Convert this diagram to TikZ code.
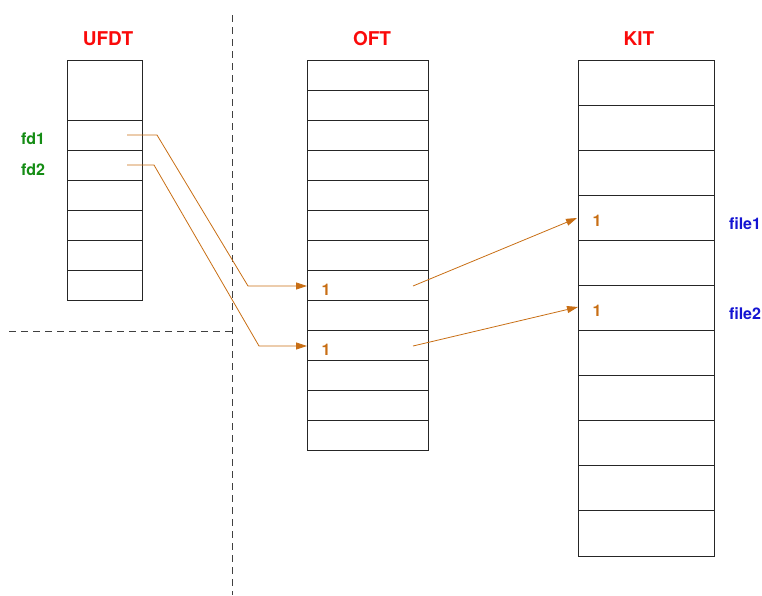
\documentclass[tikz,border=0pt]{standalone}
\usepackage{fontspec}
\setmainfont{TeX Gyre Heros}
\usetikzlibrary{arrows.meta}

\definecolor{linkbrown}{RGB}{200,110,20}
\definecolor{titlered}{RGB}{250,10,10}
\definecolor{fdgreen}{RGB}{20,140,20}
\definecolor{fileblue}{RGB}{20,20,210}

\tikzset{
  tbl/.style={draw=black!85,line width=0.9pt},
  sep/.style={draw=black!75,line width=1pt,dash pattern=on 7pt off 5pt},
  link/.style={draw=linkbrown,line width=0.8pt,-{Triangle[length=11pt,width=7pt]}},
  title/.style={text=titlered,font=\fontsize{19}{21}\selectfont\bfseries,anchor=base},
  fdlabel/.style={text=fdgreen,font=\fontsize{16}{18}\selectfont\bfseries,anchor=base},
  count/.style={text=linkbrown,font=\fontsize{16}{18}\selectfont\bfseries,anchor=base},
  filelabel/.style={text=fileblue,font=\fontsize{16}{18}\selectfont\bfseries,anchor=base}
}

\begin{document}
\begin{tikzpicture}[x=1pt,y=-1pt]
  \useasboundingbox (0,0) rectangle (762,595);

  % user / kernel split
  \draw[sep] (232,15) -- (232,595);
  \draw[sep] (9,331) -- (232,331);

  % titles
  \node[title] (ufdttitle) at (108,45) {UFDT};
  \node[title] (ofttitle) at (372,45) {OFT};
  \node[title] (kittitle) at (639,45) {KIT};

  % UFDT
  \draw[tbl] (67,60) rectangle (142,300);
  \foreach \y in {120,150,...,270}
    \draw[tbl] (67,\y) -- (142,\y);
  \node[fdlabel] (fd1) at (33,144) {fd1};
  \node[fdlabel] (fd2) at (33,175) {fd2};

  % OFT
  \draw[tbl] (307,60) rectangle (428,450);
  \foreach \y in {90,120,...,420}
    \draw[tbl] (307,\y) -- (428,\y);
  \node[count] (oftcnt1) at (326,295) {1};
  \node[count] (oftcnt2) at (326,355) {1};

  % KIT
  \draw[tbl] (578,60) rectangle (714,556);
  \foreach \i in {1,...,10}
    \draw[tbl] (578,{60+45.09*\i}) -- (714,{60+45.09*\i});
  \node[count] (kitcnt1) at (597,226) {1};
  \node[count] (kitcnt2) at (597,316) {1};
  \node[filelabel] (file1) at (745,229) {file1};
  \node[filelabel] (file2) at (745,319) {file2};

  % connector ends
  \coordinate (ufdt1) at (127,135);
  \coordinate (ufdt2) at (127,165);
  \coordinate (oftin1) at (307,286);
  \coordinate (oftin2) at (307,346);
  \coordinate (oftout1) at (413,286);
  \coordinate (oftout2) at (413,346);
  \coordinate (kitin1) at (577,218);
  \coordinate (kitin2) at (578,307);

  % fd -> OFT entry -> inode
  \draw[link] (ufdt1) -- ++(30,0) -- ++(91,151) -- (oftin1);
  \draw[link] (ufdt2) -- ++(27,0) -- ++(105,181) -- (oftin2);
  \draw[link] (oftout1) -- (kitin1);
  \draw[link] (oftout2) -- (kitin2);
\end{tikzpicture}
\end{document}
